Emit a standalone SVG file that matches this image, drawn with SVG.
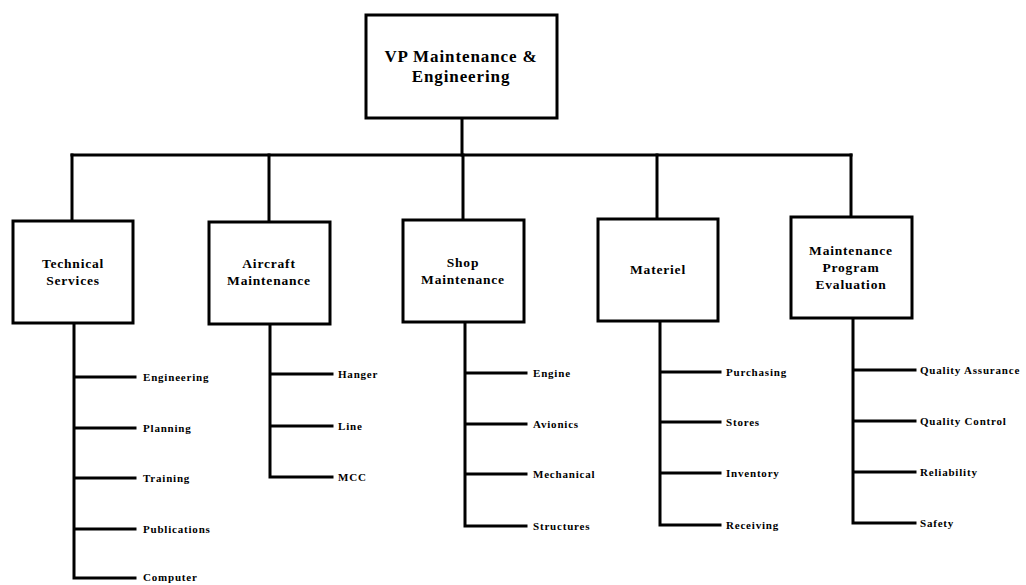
<svg xmlns="http://www.w3.org/2000/svg" width="1026" height="585" viewBox="0 0 1026 585">
  <style>
    .box { fill: #ffffff; stroke: #000000; stroke-width: 3; }
    .line { fill: none; stroke: #000000; stroke-width: 3; stroke-linecap: square; }
    .title { font-family: "Liberation Serif", "Times New Roman", serif; font-weight: bold; font-size: 17px; text-anchor: middle; fill: #000; letter-spacing: 0.9px; }
    .head { font-family: "Liberation Serif", "Times New Roman", serif; font-weight: bold; font-size: 13.5px; text-anchor: middle; fill: #000; letter-spacing: 0.8px; }
    .item { font-family: "Liberation Serif", "Times New Roman", serif; font-weight: bold; font-size: 11px; fill: #000; letter-spacing: 0.8px; }
  </style>
  <rect width="1026" height="585" fill="#ffffff"/>

  <!-- connectors -->
  <g id="connectors" class="line">
    <line x1="462" y1="118" x2="462" y2="155"/>
    <line x1="72" y1="155" x2="851" y2="155"/>
    <line x1="72" y1="155" x2="72" y2="220"/>
    <line x1="269" y1="155" x2="269" y2="221"/>
    <line x1="463" y1="155" x2="463" y2="219"/>
    <line x1="657" y1="155" x2="657" y2="218"/>
    <line x1="851" y1="155" x2="851" y2="216"/>

    <!-- Technical Services sub-units -->
    <path d="M74 323 V578 H135 M74 377 H135 M74 428 H135 M74 478 H135 M74 529 H135"/>
    <!-- Aircraft Maintenance sub-units -->
    <path d="M270 324 V477 H332 M270 374 H332 M270 426 H332"/>
    <!-- Shop Maintenance sub-units -->
    <path d="M465 322 V526 H526 M465 373 H526 M465 424 H526 M465 474 H526"/>
    <!-- Materiel sub-units -->
    <path d="M660 321 V525 H720 M660 372 H720 M660 422 H720 M660 473 H720"/>
    <!-- Maintenance Program Evaluation sub-units -->
    <path d="M853 318 V523 H915 M853 370 H915 M853 421 H915 M853 472 H915"/>
  </g>

  <g id="vp">
    <rect class="box" x="366" y="15" width="191" height="103"/>
    <text class="title" x="461" y="62">VP Maintenance &amp;</text>
    <text class="title" x="461" y="82">Engineering</text>
  </g>

  <g id="technical-services">
    <rect class="box" x="13" y="221" width="120" height="102"/>
    <text class="head" x="73" y="268">Technical</text>
    <text class="head" x="73" y="285">Services</text>
  </g>

  <g id="aircraft-maintenance">
    <rect class="box" x="209" y="222" width="121" height="102"/>
    <text class="head" x="269" y="268">Aircraft</text>
    <text class="head" x="269" y="285">Maintenance</text>
  </g>

  <g id="shop-maintenance">
    <rect class="box" x="403" y="220" width="121" height="102"/>
    <text class="head" x="463" y="267">Shop</text>
    <text class="head" x="463" y="284">Maintenance</text>
  </g>

  <g id="materiel">
    <rect class="box" x="598" y="219" width="120" height="102"/>
    <text class="head" x="658" y="274">Materiel</text>
  </g>

  <g id="program-evaluation">
    <rect class="box" x="791" y="217" width="121" height="101"/>
    <text class="head" x="851" y="255">Maintenance</text>
    <text class="head" x="851" y="272">Program</text>
    <text class="head" x="851" y="289">Evaluation</text>
  </g>

  <g id="technical-services-units">
    <text class="item" x="143" y="381">Engineering</text>
    <text class="item" x="143" y="432">Planning</text>
    <text class="item" x="143" y="482">Training</text>
    <text class="item" x="143" y="533">Publications</text>
    <text class="item" x="143" y="581">Computer</text>
  </g>

  <g id="aircraft-maintenance-units">
    <text class="item" x="338" y="378">Hanger</text>
    <text class="item" x="338" y="430">Line</text>
    <text class="item" x="338" y="481">MCC</text>
  </g>

  <g id="shop-maintenance-units">
    <text class="item" x="533" y="377">Engine</text>
    <text class="item" x="533" y="428">Avionics</text>
    <text class="item" x="533" y="478">Mechanical</text>
    <text class="item" x="533" y="530">Structures</text>
  </g>

  <g id="materiel-units">
    <text class="item" x="726" y="376">Purchasing</text>
    <text class="item" x="726" y="426">Stores</text>
    <text class="item" x="726" y="477">Inventory</text>
    <text class="item" x="726" y="529">Receiving</text>
  </g>

  <g id="program-evaluation-units">
    <text class="item" x="920" y="374">Quality Assurance</text>
    <text class="item" x="920" y="425">Quality Control</text>
    <text class="item" x="920" y="476">Reliability</text>
    <text class="item" x="920" y="527">Safety</text>
  </g>
</svg>
